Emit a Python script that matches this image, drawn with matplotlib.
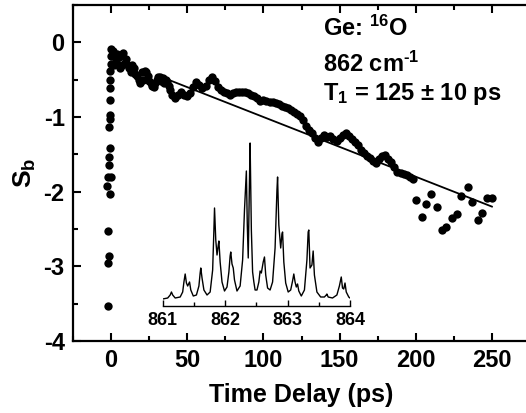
import numpy as np
import matplotlib
matplotlib.use("Agg")
import matplotlib.pyplot as plt
from matplotlib.ticker import MultipleLocator

plt.rcParams['font.family'] = ['Liberation Sans', 'DejaVu Sans']
plt.rcParams['font.weight'] = 'bold'
plt.rcParams['mathtext.default'] = 'regular'
plt.rcParams['axes.unicode_minus'] = False

# rise at time zero
rise_t = [-2.0, -1.8, -1.6, -1.7, -0.4, -2.6, 0.2, -1.8, -1.2, -1.6, -1.0,
          -1.2, -0.8, -1.0, -0.8, -0.6, -0.4, -0.4, -0.2, 0.0, 0.2]
rise_s = [-3.53, -2.95, -2.86, -2.53, -2.03, -1.92, -1.81, -1.80, -1.64, -1.53, -1.41,
          -1.14, -1.03, -0.97, -0.77, -0.61, -0.50, -0.39, -0.29, -0.18, -0.09]

# decay, time delay in ps
decay_t = [1, 2, 3, 4, 5, 6, 7, 8, 9, 10, 11, 12, 13, 14, 15, 16, 17, 18, 19, 20,
           21, 22, 23, 24, 25, 26, 27, 28, 29, 30, 31, 32, 33, 34, 35, 36, 37, 38, 39, 40,
           42, 44, 46, 48, 50, 52, 54, 56, 58, 60, 62, 64, 66, 68, 70, 72, 74, 76, 78, 80,
           82, 84, 86, 88, 90, 92, 94, 96, 98, 100, 102, 104, 106, 108, 110, 112, 114, 116,
           118, 120, 122, 124, 126, 128, 130, 132, 134, 136, 138, 140, 142, 144, 146, 148,
           150, 152, 154, 156, 158, 160, 162, 164, 166, 168, 170, 172, 174, 176, 178, 180,
           182, 184, 186, 188, 190, 192, 194, 196, 198]
decay_s = [-0.12, -0.30, -0.25, -0.15, -0.20, -0.35, -0.30, -0.14, -0.28, -0.22, -0.30,
           -0.35, -0.40, -0.30, -0.35, -0.42, -0.45, -0.50, -0.55, -0.40, -0.50, -0.38,
           -0.40, -0.45, -0.52, -0.55, -0.58, -0.60, -0.55, -0.50, -0.46, -0.47, -0.52,
           -0.48, -0.55, -0.50, -0.53, -0.58, -0.64, -0.70,
           -0.75, -0.70, -0.66, -0.70, -0.72, -0.68, -0.60, -0.53, -0.57, -0.61, -0.58,
           -0.50, -0.47, -0.52, -0.60, -0.64, -0.66, -0.68, -0.70, -0.68, -0.66, -0.66,
           -0.67, -0.66, -0.68, -0.70, -0.72, -0.75, -0.78, -0.77, -0.78, -0.80, -0.80,
           -0.81, -0.82, -0.85, -0.86, -0.88, -0.90, -0.93, -0.96, -0.99, -1.04, -1.12,
           -1.17, -1.22, -1.28, -1.33, -1.28, -1.24, -1.27, -1.25, -1.30, -1.32, -1.28,
           -1.24, -1.22, -1.25, -1.30, -1.34, -1.38, -1.44, -1.48, -1.52, -1.55, -1.59,
           -1.61, -1.56, -1.52, -1.51, -1.56, -1.60, -1.67, -1.73, -1.75, -1.77, -1.78,
           -1.80, -1.83]

tail_t = [200, 204, 207, 210, 213.7, 217, 220, 223.6, 227, 230, 234, 236.7, 240.6,
          243.7, 247, 250]
tail_s = [-2.11, -2.34, -2.17, -2.03, -2.21, -2.52, -2.47, -2.35, -2.30, -2.06, -1.94,
          -2.14, -2.38, -2.28, -2.09, -2.08]

# single exponential fit, T1 = 125 ps
fit_t = [30, 250]
fit_s = [-0.44, -2.20]

# inset: absorption spectrum (cm^-1, arb. units)
spec_f = [861.00, 861.08, 861.12, 861.14, 861.16, 861.20, 861.28, 861.32, 861.34, 861.36,
          861.38, 861.40, 861.43, 861.45, 861.49, 861.54, 861.58, 861.60, 861.61, 861.63,
          861.66, 861.71, 861.76, 861.80, 861.82, 861.83, 861.85, 861.87, 861.89, 861.90,
          861.92, 861.95, 861.99, 862.03, 862.06, 862.08, 862.09, 862.11, 862.13, 862.15,
          862.19, 862.24, 862.28, 862.31, 862.34, 862.355, 862.37, 862.39, 862.40, 862.42,
          862.44, 862.46, 862.48, 862.51, 862.54, 862.56, 862.58, 862.61, 862.63, 862.65,
          862.68, 862.72, 862.76, 862.80, 862.83, 862.84, 862.86, 862.89, 862.91, 862.92,
          862.94, 862.97, 863.01, 863.05, 863.08, 863.10, 863.12, 863.14, 863.16, 863.18,
          863.22, 863.27, 863.31, 863.33, 863.34, 863.36, 863.39, 863.41, 863.43, 863.47,
          863.53, 863.59, 863.62, 863.63, 863.65, 863.72, 863.79, 863.83, 863.86, 863.88,
          863.90, 863.92, 863.94, 863.98, 864.02]
spec_i = [1, 2, 5, 8, 5, 2, 3, 8, 18, 26,
          17, 14, 18, 10, 4, 5, 14, 27, 32, 22,
          10, 5, 8, 30, 70, 92, 60, 45, 55, 59,
          38, 18, 9, 13, 28, 44, 48, 36, 32, 20,
          9, 14, 40, 90, 129, 75, 42, 120, 157, 70,
          28, 18, 10, 10, 18, 29, 27, 38, 43, 25,
          12, 10, 18, 52, 110, 123, 75, 52, 66, 68,
          38, 17, 8, 10, 19, 26, 18, 13, 16, 9,
          4, 10, 40, 68, 70, 32, 35, 49, 25, 8,
          3, 3, 5, 6, 3, 2, 5, 14, 23, 12,
          11, 17, 8, 3, 1]

W, H = 526, 413
fig = plt.figure(figsize=(W / 100, H / 100), dpi=100)
ax = fig.add_axes([73 / W, 1 - 341 / H, 457 / W, 336 / H])

t_all = rise_t + decay_t + tail_t
s_all = rise_s + decay_s + tail_s
ax.scatter(t_all, s_all, s=36, color='black', linewidths=0, zorder=2)
ax.plot(fit_t, fit_s, color='black', linewidth=1.3, zorder=3)

ax.set_xlim(-25, 275)
ax.set_ylim(-4, 0.5)
ax.xaxis.set_major_locator(MultipleLocator(50))
ax.xaxis.set_minor_locator(MultipleLocator(25))
ax.yaxis.set_major_locator(MultipleLocator(1))
ax.yaxis.set_minor_locator(MultipleLocator(0.5))
ax.tick_params(which='both', direction='in', top=True, right=False, width=1.5,
               labelsize=17, pad=6)
ax.tick_params(which='major', length=6)
ax.tick_params(which='minor', length=3.5)
for sp in ax.spines.values():
    sp.set_linewidth(1.6)

ax.set_xlabel('Time Delay (ps)', fontsize=18, fontweight='bold', labelpad=8)
ax.set_ylabel('S$_b$', fontsize=19, fontweight='bold', labelpad=4)

ax.text(0.547, 0.908, 'Ge: $^{16}$O', transform=ax.transAxes, fontsize=17, fontweight='bold')
ax.text(0.547, 0.800, '862 cm$^{\u2010 1}$', transform=ax.transAxes, fontsize=17, fontweight='bold')
ax.text(0.547, 0.717, 'T$_1$ = 125 \u00b1 10 ps', transform=ax.transAxes, fontsize=17,
        fontweight='bold')

# inset spectrum
ins = fig.add_axes([162.7 / W, 1 - 306 / H, 187.3 / W, 169 / H])
ins.patch.set_alpha(0)
ins.plot(spec_f, spec_i, color='black', linewidth=1.0)
ins.set_xlim(861, 864)
ins.set_ylim(-6, 163)
for side in ['top', 'left', 'right']:
    ins.spines[side].set_visible(False)
ins.spines['bottom'].set_linewidth(1.0)
ins.set_yticks([])
ins.xaxis.set_major_locator(MultipleLocator(1))
ins.xaxis.set_minor_locator(MultipleLocator(0.5))
ins.tick_params(which='both', direction='in', width=1.0, labelsize=13, pad=4)
ins.tick_params(which='major', length=4)
ins.tick_params(which='minor', length=3)

fig.savefig('out.png', dpi=100)
